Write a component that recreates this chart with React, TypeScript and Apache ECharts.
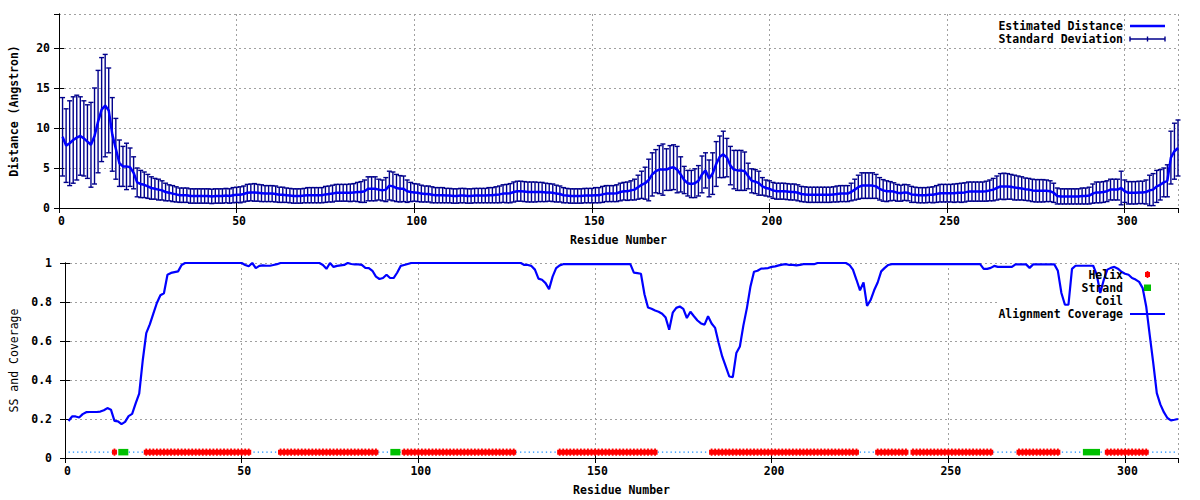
import React, { useEffect, useRef } from "react";
import * as echarts from "echarts";

const X_MAX = 315;
const X_INTERVAL = 50;
const DIST_MAX = 24.25;
const DIST_INTERVAL = 5;
const COV_INTERVAL = 0.2;
const SS_LEVEL = 0.03;

// Estimated distance per residue (1..315)
const distance = [
  8.9, 7.8, 8.1, 8.5, 8.8, 9.0, 8.7, 8.3, 7.9, 9.0,
  10.8, 12.3, 12.8, 12.2, 9.2, 7.4, 5.6, 5.2, 5.2, 5.1,
  4.4, 3.2, 3.0, 2.9, 2.7, 2.5, 2.4, 2.3, 2.2, 2.0,
  1.9, 1.8, 1.7, 1.6, 1.6, 1.6, 1.5, 1.5, 1.5, 1.5,
  1.5, 1.5, 1.45, 1.5, 1.5, 1.5, 1.55, 1.5, 1.6, 1.65,
  1.65, 1.75, 1.9, 1.95, 1.95, 1.9, 1.85, 1.8, 1.8, 1.8,
  1.75, 1.65, 1.65, 1.6, 1.55, 1.5, 1.5, 1.5, 1.55, 1.6,
  1.6, 1.6, 1.6, 1.6, 1.7, 1.75, 1.8, 1.9, 1.9, 1.9,
  1.9, 1.9, 1.95, 2.0, 2.0, 2.1, 2.4, 2.4, 2.4, 2.3,
  2.2, 2.3, 2.8, 2.7, 2.5, 2.4, 2.4, 2.1, 2.0, 1.95,
  1.9, 1.8, 1.75, 1.75, 1.65, 1.6, 1.6, 1.6, 1.55, 1.55,
  1.5, 1.5, 1.55, 1.55, 1.5, 1.5, 1.55, 1.55, 1.55, 1.55,
  1.6, 1.6, 1.65, 1.7, 1.8, 1.8, 1.85, 2.0, 2.1, 2.1,
  2.05, 2.0, 2.0, 2.0, 2.0, 2.0, 1.95, 1.95, 1.9, 1.8,
  1.75, 1.6, 1.55, 1.5, 1.5, 1.5, 1.5, 1.55, 1.55, 1.55,
  1.6, 1.6, 1.7, 1.8, 1.8, 1.8, 1.85, 2.0, 2.1, 2.1,
  2.2, 2.3, 2.6, 2.9, 3.1, 3.5, 4.2, 4.6, 4.8, 4.8,
  4.8, 5.0, 5.1, 4.8, 4.2, 3.5, 3.1, 3.0, 3.1, 3.4,
  4.2, 4.7, 3.7, 4.3, 5.5, 6.4, 6.7, 6.3, 5.3, 4.8,
  4.7, 4.7, 4.6, 4.0, 3.4, 3.3, 3.1, 2.7, 2.5, 2.4,
  2.2, 2.1, 2.1, 2.1, 2.05, 2.0, 2.0, 1.9, 1.75, 1.7,
  1.65, 1.65, 1.65, 1.65, 1.65, 1.65, 1.65, 1.7, 1.75, 1.8,
  1.8, 1.8, 2.0, 2.3, 2.6, 2.8, 2.8, 2.8, 2.8, 2.7,
  2.4, 2.2, 2.1, 2.1, 2.05, 1.9, 1.85, 1.95, 1.9, 1.7,
  1.65, 1.6, 1.6, 1.6, 1.65, 1.65, 1.75, 1.85, 1.85, 1.85,
  1.85, 1.85, 1.9, 1.9, 1.95, 2.05, 2.05, 2.05, 2.05, 2.05,
  2.1, 2.2, 2.3, 2.5, 2.7, 2.7, 2.7, 2.65, 2.55, 2.5,
  2.45, 2.35, 2.3, 2.2, 2.15, 2.15, 2.15, 2.15, 2.1, 1.9,
  1.5, 1.45, 1.45, 1.45, 1.45, 1.45, 1.45, 1.5, 1.5, 1.55,
  1.8, 1.95, 1.95, 2.0, 2.1, 2.3, 2.3, 2.3, 2.5, 2.1,
  1.9, 1.9, 1.9, 1.95, 1.95, 2.0, 2.2, 2.3, 2.7, 2.9,
  3.2, 3.4, 6.3, 7.1, 7.5,
];

// Standard deviation per residue
const stdDev = [
  4.9, 4.6, 5.3, 5.4, 5.3, 4.9, 4.7, 4.6, 5.3, 6.0,
  6.4, 6.5, 6.4, 5.3, 4.6, 3.8, 2.9, 2.5, 2.9, 2.4,
  2.0, 1.8, 1.7, 1.6, 1.5, 1.4, 1.3, 1.3, 1.2, 1.1,
  1.0, 1.0, 0.95, 0.9, 0.9, 0.9, 0.9, 0.9, 0.9, 0.9,
  0.9, 0.9, 0.9, 0.9, 0.9, 0.9, 0.9, 0.9, 0.95, 0.95,
  1.0, 1.0, 1.05, 1.05, 1.1, 1.05, 1.05, 1.0, 1.0, 1.0,
  1.0, 0.95, 0.95, 0.9, 0.9, 0.9, 0.9, 0.9, 0.9, 0.95,
  0.95, 0.95, 0.95, 0.95, 1.0, 1.0, 1.05, 1.05, 1.05, 1.05,
  1.05, 1.1, 1.1, 1.2, 1.3, 1.4, 1.5, 1.5, 1.5, 1.3,
  1.3, 1.5, 1.8, 1.8, 1.7, 1.65, 1.6, 1.4, 1.2, 1.1,
  1.1, 1.05, 1.0, 1.0, 1.0, 0.95, 0.95, 0.95, 0.9, 0.9,
  0.9, 0.9, 0.9, 0.9, 0.9, 0.9, 0.9, 0.9, 0.9, 0.9,
  0.95, 0.95, 1.0, 1.05, 1.1, 1.15, 1.2, 1.25, 1.25, 1.25,
  1.25, 1.25, 1.25, 1.25, 1.2, 1.2, 1.15, 1.1, 1.1, 1.05,
  1.0, 0.95, 0.9, 0.9, 0.9, 0.9, 0.9, 0.9, 0.9, 0.9,
  0.95, 0.95, 1.0, 1.0, 1.0, 1.0, 1.05, 1.1, 1.1, 1.15,
  1.2, 1.3, 1.5, 1.7, 2.0, 2.6, 2.7, 2.7, 3.0, 3.2,
  2.6, 2.8, 2.8, 2.9, 2.2, 1.7, 1.6, 1.7, 1.8, 1.9,
  2.3, 2.2, 2.3, 2.6, 2.8, 2.6, 2.9, 2.4, 2.4, 2.4,
  2.5, 2.5, 2.4, 1.6, 1.5, 1.5, 1.5, 1.1, 1.0, 1.0,
  1.0, 1.0, 1.0, 1.0, 1.0, 1.0, 1.0, 1.0, 0.95, 0.95,
  0.95, 0.95, 0.95, 0.95, 0.95, 0.95, 0.95, 0.95, 1.0, 1.0,
  1.0, 1.0, 1.1, 1.3, 1.5, 1.6, 1.6, 1.6, 1.6, 1.5,
  1.4, 1.35, 1.3, 1.2, 1.1, 1.05, 1.0, 1.0, 1.0, 1.0,
  0.95, 0.95, 0.95, 0.95, 0.95, 1.0, 1.05, 1.1, 1.1, 1.1,
  1.1, 1.15, 1.15, 1.2, 1.2, 1.2, 1.2, 1.2, 1.2, 1.2,
  1.25, 1.3, 1.4, 1.5, 1.6, 1.65, 1.6, 1.55, 1.55, 1.5,
  1.45, 1.4, 1.4, 1.4, 1.4, 1.4, 1.4, 1.35, 1.3, 1.2,
  1.0, 0.95, 0.95, 0.95, 0.95, 0.95, 0.95, 1.0, 1.0, 1.05,
  1.2, 1.3, 1.3, 1.3, 1.3, 1.3, 1.3, 1.3, 2.1, 1.4,
  1.4, 1.4, 1.4, 1.4, 1.4, 1.5, 1.9, 2.0, 2.0, 1.9,
  1.8, 2.0, 3.3, 3.5, 3.5,
];

// Alignment coverage per residue
const coverage = [
  0.19, 0.213, 0.213, 0.208, 0.225, 0.235, 0.236, 0.236, 0.236, 0.238,
  0.245, 0.256, 0.248, 0.19, 0.188, 0.174, 0.185, 0.215, 0.226, 0.28,
  0.33, 0.5, 0.64, 0.685, 0.74, 0.795, 0.835, 0.845, 0.94, 0.949,
  0.953, 0.957, 0.99, 1, 1, 1, 1, 1, 1, 1,
  1, 1, 1, 1, 1, 1, 1, 1, 1, 1,
  0.99, 0.983, 1.0, 0.974, 0.985, 0.988, 0.986, 0.986, 0.99, 0.994,
  1, 1, 1, 1, 1, 1, 1, 1, 1, 1,
  1, 1, 0.99, 0.97, 1.0, 0.98, 0.985, 0.988, 0.99, 1.0,
  0.995, 0.993, 0.993, 0.99, 0.975, 0.974, 0.96, 0.93, 0.918, 0.923,
  0.94, 0.923, 0.923, 0.95, 0.985, 0.99, 0.995, 1, 1, 1,
  1, 1, 1, 1, 1, 1, 1, 1, 1, 1,
  1, 1, 1, 1, 1, 1, 1, 1, 1, 1,
  1, 1, 1, 1, 1, 1, 1, 1, 1, 0.99,
  0.99, 0.985, 0.966, 0.92, 0.914, 0.897, 0.866, 0.93, 0.974, 0.988,
  0.994, 0.994, 0.994, 0.994, 0.994, 0.994, 0.994, 0.994, 0.994, 0.994,
  0.994, 0.994, 0.994, 0.994, 0.994, 0.994, 0.994, 0.994, 0.994, 0.994,
  0.951, 0.948, 0.945, 0.84, 0.772, 0.765, 0.756, 0.75, 0.74, 0.72,
  0.658, 0.745, 0.77, 0.777, 0.765, 0.718, 0.75, 0.727, 0.705, 0.69,
  0.684, 0.727, 0.69, 0.667, 0.59, 0.521, 0.47, 0.418, 0.415, 0.538,
  0.572, 0.68, 0.77, 0.88, 0.955, 0.96, 0.971, 0.972, 0.974, 0.98,
  0.983, 0.988, 0.992, 0.994, 0.99, 0.99, 0.988, 0.99, 0.994, 0.994,
  0.994, 0.994, 1, 1, 1, 1, 1, 1, 1, 1,
  1.0, 0.99, 0.966, 0.914, 0.86, 0.9, 0.78, 0.81, 0.86, 0.9,
  0.957, 0.975, 0.99, 0.994, 0.994, 0.994, 0.994, 0.994, 0.994, 0.994,
  0.994, 0.994, 0.994, 0.994, 0.994, 0.994, 0.994, 0.994, 0.994, 0.994,
  0.994, 0.994, 0.994, 0.994, 0.994, 0.994, 0.994, 0.994, 0.994, 0.97,
  0.97, 0.975, 0.985, 0.98, 0.98, 0.98, 0.98, 0.98, 0.993, 0.993,
  0.993, 0.993, 0.975, 0.993, 0.993, 0.993, 0.993, 0.993, 0.993, 0.993,
  0.96, 0.846, 0.786, 0.786, 0.97, 0.986, 0.986, 0.986, 0.986, 0.986,
  0.986, 0.94, 0.846, 0.914, 0.966, 0.975, 0.98, 0.971, 0.955, 0.945,
  0.94, 0.923, 0.915, 0.903, 0.871, 0.777, 0.63, 0.487, 0.333, 0.275,
  0.235, 0.205, 0.193, 0.196, 0.2,
];

// Secondary structure segments (first..last residue)
const helixSegments = [
  [14, 14], [23, 52], [61, 88], [96, 127], [140, 167],
  [183, 224], [230, 238], [240, 262], [270, 281], [295, 306],
];
const strandSegments = [[16, 17], [93, 94], [289, 292]];

const FONT = "DejaVu Sans Mono";
const FS = 11.5;
const GRID_COLOR = "#a0a0a0";
const MEAN_COLOR = "#0000ff";
const BAR_COLOR = "#00008b";
const COV_COLOR = "#0000ff";
const HELIX_COLOR = "#ff0000";
const STRAND_COLOR = "#00c000";
const COIL_COLOR = "#1e90ff";

export default function App() {
  const ref = useRef<HTMLDivElement>(null);

  useEffect(() => {
    if (!ref.current) return;
    const chart = echarts.init(ref.current, null, { renderer: "svg" });

    const residues = distance.map((_, i) => i + 1);
    const meanData = residues.map((r, i) => [r, distance[i]]);
    const barData = residues.map((r, i) => [r, distance[i] - stdDev[i], distance[i] + stdDev[i]]);
    const covData = residues.map((r, i) => [r, coverage[i]]);
    const coilData = residues.map((r) => [r, SS_LEVEL]);
    const helixData = helixSegments.map(([a, b]) => [a, b, SS_LEVEL]);
    const strandData = strandSegments.map(([a, b]) => [a, b, SS_LEVEL]);

    const textStyleBase = { fontFamily: FONT, fontSize: FS, fontWeight: "bold" as const, color: "#000" };
    const tick = { show: true, inside: true, length: 5, lineStyle: { color: "#000", width: 1 } };
    const axisLine = { show: true, lineStyle: { color: "#000", width: 1 } };
    const split = { show: true, lineStyle: { color: GRID_COLOR, type: [2, 3] as any, width: 1 } };

    const xMain = (gridIndex: number) => ({
      type: "value",
      gridIndex,
      position: "bottom",
      min: 0,
      max: X_MAX,
      interval: X_INTERVAL,
      axisLine,
      axisTick: tick,
      splitLine: split,
      axisLabel: { ...textStyleBase, margin: 7, showMaxLabel: false, padding: [0, 0, 0, 5] },
      name: "Residue Number",
      nameLocation: "middle",
      nameGap: 26,
      nameTextStyle: { ...textStyleBase },
    });
    const xMirror = (gridIndex: number) => ({
      type: "value",
      gridIndex,
      position: "top",
      min: 0,
      max: X_MAX,
      interval: X_INTERVAL,
      axisLine,
      axisTick: tick,
      splitLine: { show: false },
      axisLabel: { show: false },
    });

    const segmentRenderer = (kind: "helix" | "strand") => (params: any, api: any) => {
      const a = api.value(0);
      const b = api.value(1);
      const lvl = api.value(2);
      const p1 = api.coord([a, lvl]);
      const p2 = api.coord([b, lvl]);
      if (kind === "strand") {
        const h = 6.5;
        return {
          type: "rect",
          shape: { x: p1[0] - h / 2, y: p1[1] - h / 2, width: p2[0] - p1[0] + h, height: h },
          style: { fill: STRAND_COLOR },
        };
      }
      const children: any[] = [
        {
          type: "rect",
          shape: { x: p1[0] - 2.5, y: p1[1] - 2.5, width: p2[0] - p1[0] + 5, height: 5 },
          style: { fill: HELIX_COLOR },
        },
      ];
      for (let r = a; r <= b; r++) {
        const p = api.coord([r, lvl]);
        children.push({
          type: "rect",
          shape: { x: p[0] - 0.9, y: p[1] - 3.6, width: 1.8, height: 7.2 },
          style: { fill: HELIX_COLOR },
        });
      }
      return { type: "group", children };
    };

    const option: any = {
      animation: false,
      backgroundColor: "#fff",
      grid: [
        { left: 52, right: 22, top: 14, height: 194 },
        { left: 58, right: 22, top: 263, height: 195 },
      ],
      xAxis: [xMain(0), xMirror(0), xMain(1), xMirror(1)],
      yAxis: [
        {
          type: "value",
          gridIndex: 0,
          position: "left",
          min: 0,
          max: DIST_MAX,
          interval: DIST_INTERVAL,
          axisLine,
          axisTick: tick,
          splitLine: split,
          axisLabel: { ...textStyleBase, margin: 9, showMaxLabel: false },
          name: "Distance (Angstron)",
          nameLocation: "middle",
          nameGap: 39,
          nameTextStyle: { ...textStyleBase },
        },
        {
          type: "value",
          gridIndex: 0,
          position: "right",
          min: 0,
          max: DIST_MAX,
          interval: DIST_INTERVAL,
          axisLine,
          axisTick: tick,
          splitLine: { show: false },
          axisLabel: { show: false },
        },
        {
          type: "value",
          gridIndex: 1,
          position: "left",
          min: 0,
          max: 1,
          interval: COV_INTERVAL,
          axisLine,
          axisTick: tick,
          splitLine: split,
          axisLabel: { ...textStyleBase, margin: 13 },
          name: "SS and Coverage",
          nameLocation: "middle",
          nameGap: 45,
          nameTextStyle: { ...textStyleBase, fontWeight: "normal" },
        },
        {
          type: "value",
          gridIndex: 1,
          position: "right",
          min: 0,
          max: 1,
          interval: COV_INTERVAL,
          axisLine,
          axisTick: tick,
          splitLine: { show: false },
          axisLabel: { show: false },
        },
      ],
      series: [
        {
          type: "custom",
          name: "Standard Deviation",
          xAxisIndex: 0,
          yAxisIndex: 0,
          z: 2,
          data: barData,
          encode: { x: 0, y: [1, 2] },
          renderItem: (params: any, api: any) => {
            const x = api.value(0);
            const lo = api.coord([x, api.value(1)]);
            const hi = api.coord([x, api.value(2)]);
            const st = { stroke: BAR_COLOR, lineWidth: 1.4 };
            return {
              type: "group",
              children: [
                { type: "line", shape: { x1: lo[0], y1: lo[1], x2: hi[0], y2: hi[1] }, style: st },
                { type: "line", shape: { x1: lo[0] - 2.5, y1: lo[1], x2: lo[0] + 2.5, y2: lo[1] }, style: st },
                { type: "line", shape: { x1: hi[0] - 2.5, y1: hi[1], x2: hi[0] + 2.5, y2: hi[1] }, style: st },
              ],
            };
          },
        },
        {
          type: "line",
          name: "Estimated Distance",
          xAxisIndex: 0,
          yAxisIndex: 0,
          z: 3,
          data: meanData,
          symbol: "none",
          lineStyle: { color: MEAN_COLOR, width: 2.5 },
        },
        {
          type: "line",
          name: "Coil",
          xAxisIndex: 2,
          yAxisIndex: 2,
          z: 2,
          data: coilData,
          symbol: "none",
          lineStyle: { color: COIL_COLOR, width: 1.3, type: [1.3, 3] },
        },
        {
          type: "custom",
          name: "Helix",
          xAxisIndex: 2,
          yAxisIndex: 2,
          z: 3,
          data: helixData,
          encode: { x: [0, 1], y: 2 },
          renderItem: segmentRenderer("helix"),
        },
        {
          type: "custom",
          name: "Strand",
          xAxisIndex: 2,
          yAxisIndex: 2,
          z: 3,
          data: strandData,
          encode: { x: [0, 1], y: 2 },
          renderItem: segmentRenderer("strand"),
        },
        {
          type: "line",
          name: "Alignment Coverage",
          xAxisIndex: 2,
          yAxisIndex: 2,
          z: 4,
          data: covData,
          symbol: "none",
          lineStyle: { color: COV_COLOR, width: 2.2 },
        },
      ],
      graphic: [
        // key box in lower panel (hides grid behind key)
        { type: "rect", z: 1, shape: { x: 998, y: 264, width: 179, height: 56 }, style: { fill: "#fff" } },
        // top key
        { type: "text", z: 10, x: 1123, y: 26, style: { text: "Estimated Distance", font: `bold ${FS}px "${FONT}"`, fill: "#000", align: "right", verticalAlign: "middle" } },
        { type: "line", z: 10, shape: { x1: 1130, y1: 26, x2: 1165, y2: 26 }, style: { stroke: MEAN_COLOR, lineWidth: 2.5 } },
        { type: "text", z: 10, x: 1123, y: 39, style: { text: "Standard Deviation", font: `bold ${FS}px "${FONT}"`, fill: "#000", align: "right", verticalAlign: "middle" } },
        { type: "line", z: 10, shape: { x1: 1130, y1: 39, x2: 1165, y2: 39 }, style: { stroke: BAR_COLOR, lineWidth: 1.4 } },
        { type: "line", z: 10, shape: { x1: 1130, y1: 36.5, x2: 1130, y2: 41.5 }, style: { stroke: BAR_COLOR, lineWidth: 1.4 } },
        { type: "line", z: 10, shape: { x1: 1165, y1: 36.5, x2: 1165, y2: 41.5 }, style: { stroke: BAR_COLOR, lineWidth: 1.4 } },
        { type: "line", z: 10, shape: { x1: 1147.5, y1: 36.5, x2: 1147.5, y2: 41.5 }, style: { stroke: BAR_COLOR, lineWidth: 1.4 } },
        // bottom key
        { type: "text", z: 10, x: 1123, y: 274.5, style: { text: "Helix", font: `bold ${FS}px "${FONT}"`, fill: "#000", align: "right", verticalAlign: "middle" } },
        { type: "rect", z: 10, shape: { x: 1145, y: 272, width: 5, height: 5 }, style: { fill: HELIX_COLOR } },
        { type: "rect", z: 10, shape: { x: 1146.6, y: 271, width: 1.8, height: 7 }, style: { fill: HELIX_COLOR } },
        { type: "text", z: 10, x: 1123, y: 287.7, style: { text: "Strand", font: `bold ${FS}px "${FONT}"`, fill: "#000", align: "right", verticalAlign: "middle" } },
        { type: "rect", z: 10, shape: { x: 1144, y: 284.5, width: 7, height: 6.5 }, style: { fill: STRAND_COLOR } },
        { type: "text", z: 10, x: 1123, y: 300.8, style: { text: "Coil", font: `bold ${FS}px "${FONT}"`, fill: "#000", align: "right", verticalAlign: "middle" } },
        { type: "text", z: 10, x: 1123, y: 314, style: { text: "Alignment Coverage", font: `bold ${FS}px "${FONT}"`, fill: "#000", align: "right", verticalAlign: "middle" } },
        { type: "line", z: 10, shape: { x1: 1130, y1: 314, x2: 1165, y2: 314 }, style: { stroke: COV_COLOR, lineWidth: 2.2 } },
      ],
    };

    chart.setOption(option);
    return () => chart.dispose();
  }, []);

  return (
    <div
      ref={ref}
      style={{ position: "fixed", left: 0, top: 0, width: 1200, height: 500, background: "#fff" }}
    />
  );
}
